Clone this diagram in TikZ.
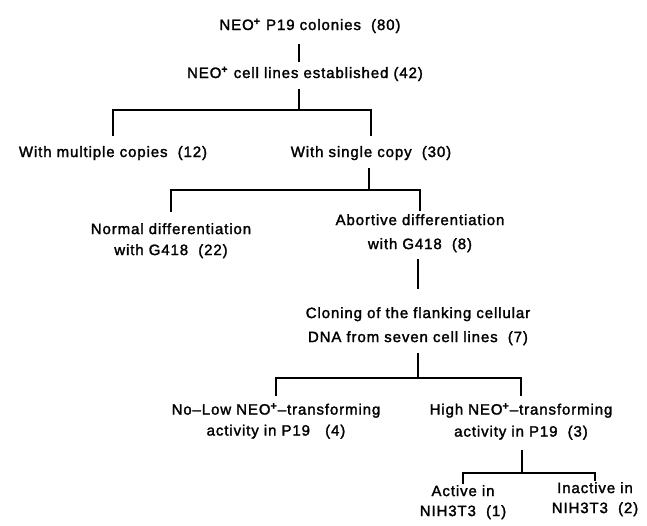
\documentclass[tikz,border=0pt]{standalone}
\usepackage{fontspec}
\setmainfont{Liberation Sans}[LetterSpace=6,FakeBold=1.8]
\newcommand{\neoplus}{NEO\textsuperscript{\textbf{+}}}
\begin{document}
\begin{tikzpicture}[x=1pt,y=-1pt,
  txt/.style={inner sep=0pt,anchor=base,font=\fontsize{15}{21}\selectfont},
  twoline/.style={txt,align=center,anchor=north},
  tree/.style={line width=1.4pt},
  gap/.style 2 args={shorten <=#1pt,shorten >=#2pt}]
  \useasboundingbox (0,0) rectangle (647,525);
  % labels
  \node[txt] (colonies) at (310,30) {\neoplus\ P19 colonies\ \ (80)};
  \node[txt] (established) at (305,78) {\neoplus\ cell lines established\ (42)};
  \node[txt] (multiple) at (113,157) {With multiple copies\ \ (12)};
  \node[txt] (single) at (371,157) {With single copy\ \ (30)};
  \node[twoline] (normal) at (171,223) {Normal differentiation\\ with G418\ \ (22)};
  \node[twoline] (abortive) at (420,214) {Abortive differentiation\\[3pt] with G418\ \ (8)};
  \node[twoline] (cloning) at (418,307) {Cloning of the flanking cellular\\[3pt] DNA from seven cell lines\ \ (7)};
  \node[twoline] (nolow) at (276,403) {No--Low \neoplus--transforming\\ activity in P19\ \ \ (4)};
  \node[twoline] (high) at (521,403) {High \neoplus--transforming\\[1pt] activity in P19\ \ (3)};
  \node[twoline] (active) at (463,485) {Active in\\[-1pt] NIH3T3\ \ (1)};
  \node[twoline] (inactive) at (595,482) {Inactive in\\[-1pt] NIH3T3\ \ (2)};
  % junctions
  \coordinate (t0) at (299,44);% top trunk ends
  \coordinate (t1) at (299,62);
  \coordinate (j1) at (299,110);
  \coordinate (j2) at (369,190);
  \coordinate (j3) at (418,378);
  \coordinate (j4) at (522,473);
  % top trunk
  \draw[tree] (t0) -- (t1);
  % first level
  \draw[tree,gap={8}{0}] (established.south -| j1) -- (j1);
  \draw[tree,gap={10}{10}] (multiple) |- (j1) -| (single);
  % single copy
  \draw[tree,gap={8}{0}] (single.south -| j2) -- (j2);
  \draw[tree,gap={11}{3}] (normal) |- (j2) -| (abortive);
  % cloning
  \draw[tree,gap={7}{18}] (abortive.south -| j3) -- (cloning.north -| j3);
  \draw[tree,gap={8}{0}] (cloning.south -| j3) -- (j3);
  \draw[tree,gap={7}{7}] (nolow) |- (j3) -| (high);
  % NIH3T3
  \draw[tree,gap={10}{0}] (high.south -| j4) -- (j4);
  \draw[tree,gap={1}{1}] (active) |- (j4) -| (inactive);
\end{tikzpicture}
\end{document}
